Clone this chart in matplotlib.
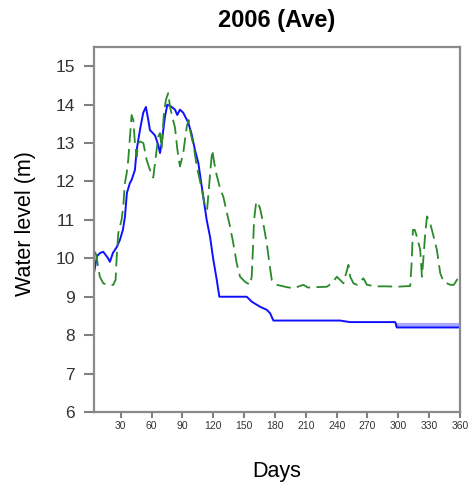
import matplotlib
matplotlib.use('Agg')
import matplotlib.pyplot as plt

plt.rcParams['font.family'] = ['Liberation Sans', 'DejaVu Sans']

# observed water level (blue)
blue_days = [4, 7, 10, 13, 17.5, 19.5, 22.4, 26.3, 29.2, 32.1, 34.1, 36, 38.9, 40.6,
             43.8, 45.5, 48.7, 51.9, 54.5, 56.8, 58.4, 63.3, 66.5, 68.2, 69.8, 73,
             75.3, 79.6, 82.8, 85, 87.6, 90.8, 95.7, 98.7, 102.2, 105.5, 108.8, 113.6,
             116.8, 120.1, 123.4, 125.9, 152.6, 157.5, 165.5, 172, 175.3, 178.5,
             243.4, 253, 297, 298.6, 360]
blue_vals = [9.62, 10.06, 10.14, 10.17, 10.01, 9.91, 10.14, 10.30, 10.48, 10.74, 11.08,
             11.70, 11.96, 12.04, 12.30, 12.82, 13.34, 13.79, 13.94, 13.6, 13.34, 13.2,
             12.95, 12.74, 13.0, 13.68, 14.0, 13.94, 13.87, 13.73, 13.87, 13.79, 13.53,
             13.26, 12.82, 12.48, 11.87, 11.0, 10.57, 9.96, 9.44, 9.0, 9.0, 8.87, 8.74,
             8.66, 8.57, 8.38, 8.38, 8.34, 8.34, 8.2, 8.2]

# faint blue band at the end of the year
band_days = [297, 360]
band_vals = [8.26, 8.26]

# simulated water level (green dashed)
green_days = [4.9, 6, 9.7, 13, 18, 22.7, 25, 26, 27.6, 30.8, 32.5, 34, 35.7, 37.3, 39,
              40.6, 42.2, 43.8, 45.5, 47, 49, 52, 55.2, 58.4, 61.6, 63.3, 66.5, 68.2,
              69.8, 72, 74, 76.2, 77.9, 80, 82.8, 85, 87.6, 90.8, 94.2, 96, 98, 101,
              104, 109, 112, 114, 117, 119, 121, 123, 126.6, 129.8, 133.1, 136.3, 139.5,
              142.8, 146.1, 150.9, 155.8, 157.4, 158.4, 159.7, 161.6, 162.9, 165.5,
              168.7, 172, 174.6, 176.9, 181.8, 191.5, 198, 207.7, 212, 220.8, 230.5,
              235.3, 240.2, 246.6, 251.5, 253.2, 256.4, 259.7, 266.1, 269.4, 279.1,
              288.9, 298.6, 311.6, 313, 314.2, 316, 318, 321.3, 323, 324.5, 326.2,
              327.9, 331, 334.3, 337.5, 340.8, 344, 350.5, 354, 357, 360]
green_vals = [10.17, 10.1, 9.52, 9.35, 9.3, 9.31, 9.44, 10.0, 10.65, 11.0, 11.35, 11.95,
              12.2, 12.56, 13.17, 13.73, 13.6, 13.0, 12.65, 13.0, 13.04, 13.0, 12.56,
              12.3, 12.1, 12.47, 13.17, 13.26, 12.85, 13.78, 14.13, 14.3, 13.95, 13.7,
              13.4, 12.85, 12.39, 12.74, 13.43, 13.6, 13.26, 12.91, 12.39, 11.78, 11.35,
              11.26, 12.22, 12.82, 12.48, 12.2, 11.82, 11.6, 11.2, 10.83, 10.39, 9.87,
              9.52, 9.39, 9.31, 9.52, 10.13, 11.0, 11.43, 11.48, 11.3, 10.9, 10.4, 9.87,
              9.44, 9.31, 9.25, 9.22, 9.31, 9.24, 9.25, 9.26, 9.35, 9.52, 9.35, 9.83,
              9.52, 9.35, 9.31, 9.48, 9.31, 9.27, 9.27, 9.26, 9.28, 9.9, 10.74, 10.74,
              10.57, 10.22, 9.52, 10.04, 10.65, 11.09, 10.91, 10.57, 10.22, 9.61, 9.39,
              9.31, 9.31, 9.44, 9.5]

x_ticks = [30, 60, 90, 120, 150, 180, 210, 240, 270, 300, 330, 360]
y_ticks = [6, 7, 8, 9, 10, 11, 12, 13, 14, 15]

fig = plt.figure(figsize=(4.7, 4.84), dpi=100)
ax = fig.add_axes([94 / 470, 72 / 484, 366 / 470, 365 / 484])

ax.plot(band_days, band_vals, color='#a8a8ff', lw=3.0, solid_capstyle='butt')
ax.plot(blue_days, blue_vals, color='#1010ff', lw=1.4)
g, = ax.plot(green_days, green_vals, color='#2a8a2a', lw=1.3)
g.set_dashes((8, 3.5))

ax.set_xlim(4, 360)
ax.set_ylim(6, 15.5)
ax.set_xticks(x_ticks)
ax.set_yticks(y_ticks)
ax.tick_params(axis='x', length=4.5, width=1.5, color='#808080', labelsize=7.5,
               labelcolor='#333333', pad=2)
ax.tick_params(axis='y', length=7.5, width=1.5, color='#808080', labelsize=12.5,
               labelcolor='#333333', pad=6)
for s in ax.spines.values():
    s.set_color('#8a8a8a')
    s.set_linewidth(1.6)

fig.text(277 / 470, 1 - 20 / 484, '2006 (Ave)', ha='center', va='center',
         fontsize=17, fontweight='bold')
fig.text(25 / 470, 1 - 224 / 484, 'Water level (m)', ha='center', va='center',
         rotation=90, fontsize=15.5)
fig.text(277 / 470, 1 - 472 / 484, 'Days', ha='center', va='center', fontsize=15.5)

plt.savefig('out.png', dpi=100)
